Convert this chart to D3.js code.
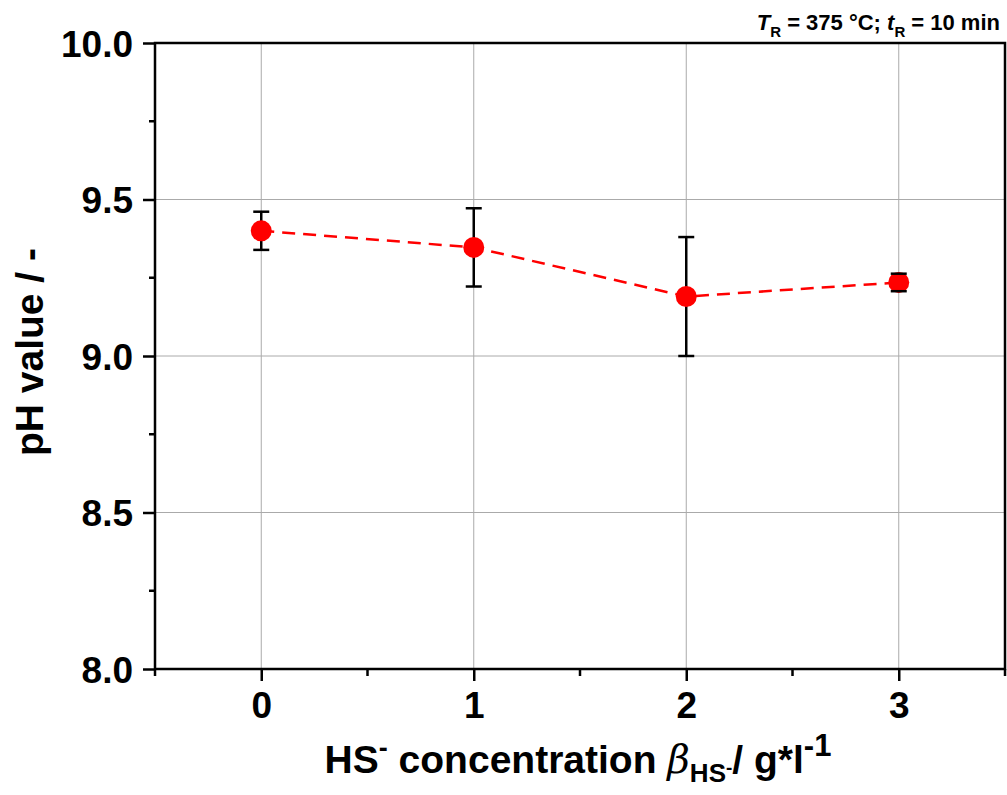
<!DOCTYPE html>
<html><head><meta charset="utf-8">
<script src="https://cdn.jsdelivr.net/npm/d3@7"></script>
<style>body{margin:0;background:#fff}svg{display:block;font-family:"Liberation Sans",Arial,sans-serif}</style>
</head><body>
<svg id="c" width="1007" height="795"></svg>
<script>
const concentrations = [0, 1, 2, 3];
const phValues = [9.40, 9.347, 9.19, 9.235];
const phErrors = [0.061, 0.125, 0.19, 0.028];
const yTicks = [8.0, 8.5, 9.0, 9.5, 10.0];
const xTicks = [0, 1, 2, 3];

const svg = d3.select("#c");
const L = 155, R = 1005, T = 43, B = 669;
const x = d3.scaleLinear().domain([-0.5, 3.5]).range([L, R]);
const y = d3.scaleLinear().domain([8, 10]).range([B, T]);

// grid
svg.append("g").selectAll("line").data(xTicks).join("line")
  .attr("x1", d => x(d)).attr("x2", d => x(d)).attr("y1", T).attr("y2", B)
  .attr("stroke", "#aaa").attr("stroke-width", 1);
svg.append("g").selectAll("line").data(yTicks.filter(d => d > 8 && d < 10)).join("line")
  .attr("x1", L).attr("x2", R).attr("y1", d => y(d)).attr("y2", d => y(d))
  .attr("stroke", "#aaa").attr("stroke-width", 1);

// axes
const yAxis = d3.axisLeft(y).tickValues(yTicks).tickFormat(d3.format(".1f")).tickSize(12).tickPadding(10);
const gy = svg.append("g").attr("transform", `translate(${L},0)`).call(yAxis);
gy.selectAll("text").attr("font-size", 37).attr("font-weight", "bold").attr("fill", "#000").attr("dy", "0.36em");
gy.selectAll("line,path").attr("stroke", "#000").attr("stroke-width", 2.5);
gy.select(".domain").remove();
const yMinor = d3.range(8.25, 10, 0.5);
svg.append("g").selectAll("line").data(yMinor).join("line")
  .attr("x1", L - 6).attr("x2", L).attr("y1", d => y(d)).attr("y2", d => y(d))
  .attr("stroke", "#000").attr("stroke-width", 2.5);

const xAxis = d3.axisBottom(x).tickValues(xTicks).tickFormat(d3.format("d")).tickSize(12).tickPadding(11);
const gx = svg.append("g").attr("transform", `translate(0,${B})`).call(xAxis);
gx.selectAll("text").attr("font-size", 37).attr("font-weight", "bold").attr("fill", "#000");
gx.selectAll("line,path").attr("stroke", "#000").attr("stroke-width", 2.5);
gx.select(".domain").remove();
const xMinor = [-0.5, 0.5, 1.5, 2.5, 3.5];
svg.append("g").selectAll("line").data(xMinor).join("line")
  .attr("x1", d => x(d)).attr("x2", d => x(d)).attr("y1", B).attr("y2", B + 7)
  .attr("stroke", "#000").attr("stroke-width", 2.5);

// frame
svg.append("rect").attr("x", L).attr("y", T).attr("width", R - L).attr("height", B - T)
  .attr("fill", "none").attr("stroke", "#000").attr("stroke-width", 2.5);

// data
const data = concentrations.map((c, i) => ({c, v: phValues[i], e: phErrors[i]}));
svg.append("path").datum(data)
  .attr("d", d3.line().x(d => x(d.c)).y(d => y(d.v)))
  .attr("fill", "none").attr("stroke", "#ff0000").attr("stroke-width", 2.5)
  .attr("stroke-dasharray", "13,8");

const eb = svg.append("g").attr("stroke", "#000").attr("stroke-width", 2.5);
data.forEach(d => {
  eb.append("line").attr("x1", x(d.c)).attr("x2", x(d.c)).attr("y1", y(d.v - d.e)).attr("y2", y(d.v + d.e));
});

svg.append("g").selectAll("circle").data(data).join("circle")
  .attr("cx", d => x(d.c)).attr("cy", d => y(d.v)).attr("r", 10.5).attr("fill", "#ff0000");

const caps = svg.append("g").attr("stroke", "#000").attr("stroke-width", 2.5);
data.forEach(d => {
  [d.v - d.e, d.v + d.e].forEach(v => caps.append("line")
    .attr("x1", x(d.c) - 8).attr("x2", x(d.c) + 8).attr("y1", y(v)).attr("y2", y(v)));
});

// annotation
const ann = svg.append("text").attr("x", 1000).attr("y", 30).attr("text-anchor", "end")
  .attr("font-size", 22).attr("font-weight", "bold");
ann.append("tspan").attr("font-style", "italic").text("T");
ann.append("tspan").attr("font-size", 15).attr("dy", 7).text("R");
ann.append("tspan").attr("dy", -7).text(" = 375 °C; ");
ann.append("tspan").attr("font-style", "italic").text("t");
ann.append("tspan").attr("font-size", 15).attr("dy", 7).text("R");
ann.append("tspan").attr("dy", -7).text(" = 10 min");

// x title
const xt = svg.append("text").attr("x", 578).attr("y", 773).attr("text-anchor", "middle")
  .attr("font-size", 39).attr("font-weight", "bold");
xt.append("tspan").text("HS");
xt.append("tspan").attr("font-size", 27).attr("dy", -16).text("-");
xt.append("tspan").attr("dy", 16).text(" concentration ");
xt.append("tspan").attr("font-style", "italic").attr("font-family", "'DejaVu Serif',serif").attr("font-weight", "normal").text("β");
xt.append("tspan").attr("font-size", 26).attr("dy", 9).text("HS");
xt.append("tspan").attr("font-size", 19).attr("dy", -8).text("-");
xt.append("tspan").attr("dy", -1).text("/ g*l");
xt.append("tspan").attr("font-size", 31).attr("dy", -17).text("-1");

// y title
svg.append("text").attr("transform", "translate(43,352) rotate(-90)").attr("text-anchor", "middle")
  .attr("font-size", 39).attr("font-weight", "bold").text("pH value / -");
</script>
</body></html>
